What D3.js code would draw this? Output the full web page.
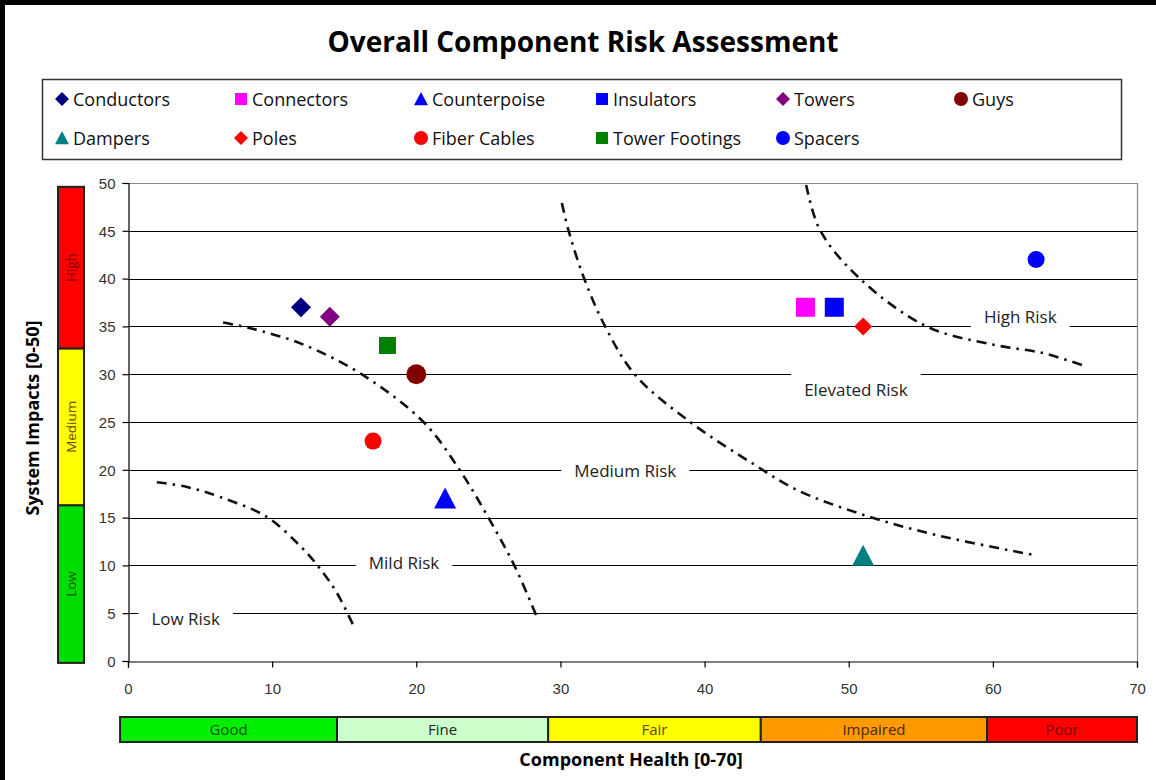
<!DOCTYPE html>
<html>
<head>
<meta charset="utf-8">
<script src="https://cdn.jsdelivr.net/npm/d3@7"></script>
<style>
  html, body { margin: 0; padding: 0; background: #fff; }
  svg { display: block; }
</style>
</head>
<body>
<svg id="chart" width="1156" height="780"></svg>
<script>
// ---- data ----
const seriesNames = ["Conductors", "Connectors", "Counterpoise", "Insulators", "Towers", "Guys",
                     "Dampers", "Poles", "Fiber Cables", "Tower Footings", "Spacers"];
const componentHealth = [12, 47, 22, 49, 14, 20, 51, 51, 17, 18, 63];
const systemImpacts   = [37, 37, 17, 37, 36, 30, 11, 35, 23, 33, 42];

const xTicks = [0, 10, 20, 30, 40, 50, 60, 70];
const yTicks = [0, 5, 10, 15, 20, 25, 30, 35, 40, 45, 50];

// risk boundary curves (health, impact)
const lowRiskBoundary = [[2.0, 18.7], [4.1, 18.2], [6.4, 17.15], [9.6, 15.1], [11.9, 12.1], [13.2, 9.9], [14.5, 7.1], [15.7, 3.5]];
const mildRiskBoundary = [[6.6, 35.4], [8.5, 34.8], [12, 33.2], [16.2, 30], [20.5, 25], [23, 20], [25, 15], [26.8, 10], [28.4, 4.5]];
const mediumRiskBoundary = [[30.1, 47.9], [30.55, 45.1], [31.6, 40.2], [33.1, 35.0], [35.2, 29.9], [39.0, 25.0], [43.5, 20.5], [46.4, 17.9], [51.0, 15.3], [56, 13.2], [62.8, 11.1]];
const highRiskBoundary = [[47.05, 49.8], [48.0, 45.1], [50.7, 40.1], [55.4, 35.0], [60.0, 33.1], [63.5, 32.2], [66.3, 30.9]];

const riskLabels = ["Low Risk", "Mild Risk", "Medium Risk", "Elevated Risk", "High Risk"];
const riskLabelHealth = [4.0, 19.15, 34.5, 50.5, 61.9];
const riskLabelImpact = [4.4, 10.25, 19.9, 28.3, 36.0];

// health bands along the x axis
const healthBandNames = ["Good", "Fine", "Fair", "Impaired", "Poor"];
const healthBandStart = [-0.55, 14.5, 29.15, 43.9, 59.6];
const healthBandEnd   = [14.5, 29.15, 43.9, 59.6, 70];

// impact bands along the y axis
const impactBandNames = ["Low", "Medium", "High"];
const impactBandStart = [-0.2, 16.3, 32.7];
const impactBandEnd   = [16.3, 32.7, 49.6];

// ---- styles ----
const markerStyle = {
  "Conductors":     { shape: "diamond",  color: "#000080", r: 10 },
  "Connectors":     { shape: "square",   color: "#ff00ff", r: 9.5 },
  "Counterpoise":   { shape: "triangle", color: "#0000ff", r: 11 },
  "Insulators":     { shape: "square",   color: "#0000ff", r: 9.5 },
  "Towers":         { shape: "diamond",  color: "#800080", r: 10 },
  "Guys":           { shape: "circle",   color: "#800000", r: 10 },
  "Dampers":        { shape: "triangle", color: "#008080", r: 11 },
  "Poles":          { shape: "diamond",  color: "#ff0000", r: 9 },
  "Fiber Cables":   { shape: "circle",   color: "#ff0000", r: 8.5 },
  "Tower Footings": { shape: "square",   color: "#008000", r: 8.5 },
  "Spacers":        { shape: "circle",   color: "#0000ff", r: 8.5 }
};
const healthBandFill = ["#00ee00", "#ccffcc", "#ffff00", "#ff9900", "#ff0000"];
const healthBandText = ["#005500", "#222222", "#5c4a00", "#4d2600", "#800000"];
const impactBandFill = ["#00dd00", "#ffff00", "#ff0000"];
const impactBandText = ["#005500", "#5c4a00", "#800000"];

const handFont = "'Open Sans', 'DejaVu Sans', sans-serif";
const tickFont = "'Liberation Sans', Arial, sans-serif";

function shapePath(shape, r) {
  if (shape === "diamond") return `M0,${-r}L${r},0L0,${r}L${-r},0Z`;
  if (shape === "square") return `M${-r},${-r}H${r}V${r}H${-r}Z`;
  if (shape === "triangle") return `M0,${-r}L${r},${r * 0.9}L${-r},${r * 0.9}Z`;
  return d3.symbol(d3.symbolCircle, Math.PI * r * r)();
}

// ---- layout ----
const svg = d3.select("#chart");
const plot = { left: 128, right: 1137, top: 183, bottom: 661 };

const x = d3.scaleLinear().domain([0, 70]).range([plot.left, plot.right]);
const y = d3.scaleLinear().domain([0, 50]).range([plot.bottom, plot.top]);

svg.append("rect").attr("width", 1156).attr("height", 780).attr("fill", "#fff");

// outer frame (left and top edges)
svg.append("rect").attr("x", 0).attr("y", 0).attr("width", 5).attr("height", 780).attr("fill", "#000");
svg.append("rect").attr("x", 0).attr("y", 0).attr("width", 1156).attr("height", 5).attr("fill", "#000");

// title
svg.append("text")
  .attr("x", 583).attr("y", 52)
  .attr("text-anchor", "middle")
  .attr("font-family", handFont).attr("font-weight", "bold").attr("font-size", 28)
  .attr("fill", "#000")
  .text("Overall Component Risk Assessment");

// legend
const legend = svg.append("g");
legend.append("rect")
  .attr("x", 42.5).attr("y", 79.5).attr("width", 1079).attr("height", 80)
  .attr("fill", "#fff").attr("stroke", "#333").attr("stroke-width", 1.5);
const legendCols = [62, 241, 421, 602, 783, 961];
const legendRows = [99, 138];
seriesNames.forEach((name, i) => {
  const row = i < 6 ? 0 : 1;
  const col = i < 6 ? i : i - 6;
  const st = markerStyle[name];
  const g = legend.append("g").attr("transform", `translate(${legendCols[col]},${legendRows[row]})`);
  g.append("path").attr("d", shapePath(st.shape, st.shape === "square" ? 6 : 7)).attr("fill", st.color);
  g.append("text")
    .attr("x", 11).attr("y", 6.5)
    .attr("font-family", handFont).attr("font-size", 18).attr("fill", "#111")
    .text(name);
});

// grid lines
svg.append("g").selectAll("line")
  .data(yTicks.filter(t => t > 0 && t < 50))
  .join("line")
  .attr("x1", plot.left).attr("x2", plot.right)
  .attr("y1", d => Math.round(y(d)) + 0.5).attr("y2", d => Math.round(y(d)) + 0.5)
  .attr("stroke", "#000").attr("stroke-width", 1.2);

// plot border (top and right)
svg.append("path")
  .attr("d", `M${plot.left},${plot.top + 0.5}H${plot.right + 0.5}V${plot.bottom}`)
  .attr("fill", "none").attr("stroke", "#888").attr("stroke-width", 1.2);

// axes
const yAxis = svg.append("g")
  .attr("transform", `translate(${plot.left + 0.5},0)`)
  .call(d3.axisLeft(y).tickValues(yTicks).tickSize(6).tickPadding(7).tickFormat(d3.format("d")));
const xAxis = svg.append("g")
  .attr("transform", `translate(0,${plot.bottom + 0.5})`)
  .call(d3.axisBottom(x).tickValues(xTicks).tickSize(6).tickPadding(16).tickFormat(d3.format("d")));
[xAxis, yAxis].forEach(a => {
  a.select(".domain").attr("stroke", "#000").attr("stroke-width", 1.2);
  a.selectAll(".tick line").attr("stroke", "#000").attr("stroke-width", 1.2);
  a.selectAll(".tick text").attr("font-family", tickFont).attr("font-size", 15).attr("fill", "#333");
});
yAxis.selectAll(".tick text").attr("dy", "0.35em");

// region labels; the white backing also breaks the nearest grid line
const labelGroup = svg.append("g");
riskLabels.forEach((lbl, i) => {
  const cx = x(riskLabelHealth[i]);
  const cy = y(riskLabelImpact[i]);
  const gridY = y(Math.round(riskLabelImpact[i] / 5) * 5);
  const t = labelGroup.append("text")
    .attr("x", cx).attr("y", cy + 6)
    .attr("text-anchor", "middle")
    .attr("font-family", handFont).attr("font-size", 17).attr("fill", "#222")
    .text(lbl);
  const bb = t.node().getBBox();
  const top = Math.min(bb.y - 2, gridY - 4);
  const bottom = Math.max(bb.y + bb.height + 2, gridY + 4);
  labelGroup.insert("rect", "text")
    .attr("x", bb.x - 13).attr("y", top)
    .attr("width", bb.width + 26).attr("height", bottom - top)
    .attr("fill", "#fff");
});

// risk boundary curves
const line = d3.line().x(d => x(d[0])).y(d => y(d[1])).curve(d3.curveCatmullRom.alpha(0.5));
svg.append("g").selectAll("path")
  .data([lowRiskBoundary, mildRiskBoundary, mediumRiskBoundary, highRiskBoundary])
  .join("path")
  .attr("d", line)
  .attr("fill", "none").attr("stroke", "#111").attr("stroke-width", 2.6)
  .attr("stroke-dasharray", "10,6,2.5,6");

// data markers
svg.append("g").selectAll("path")
  .data(seriesNames.map((n, i) => ({ name: n, hx: componentHealth[i], iy: systemImpacts[i] })))
  .join("path")
  .attr("transform", d => `translate(${x(d.hx)},${y(d.iy)})`)
  .attr("d", d => shapePath(markerStyle[d.name].shape, markerStyle[d.name].r))
  .attr("fill", d => markerStyle[d.name].color);

// impact bands (left)
const ib = svg.append("g");
impactBandNames.forEach((n, i) => {
  const y0 = y(impactBandEnd[i]), y1 = y(impactBandStart[i]);
  ib.append("rect")
    .attr("x", 58).attr("y", y0).attr("width", 26).attr("height", y1 - y0)
    .attr("fill", impactBandFill[i]).attr("stroke", "#222").attr("stroke-width", 2);
  ib.append("text")
    .attr("transform", `translate(76,${(y0 + y1) / 2}) rotate(-90)`)
    .attr("text-anchor", "middle")
    .attr("font-family", handFont).attr("font-size", 13.5).attr("fill", impactBandText[i])
    .text(n);
});

// health bands (bottom)
const hb = svg.append("g");
healthBandNames.forEach((n, i) => {
  const x0 = x(healthBandStart[i]), x1 = x(healthBandEnd[i]);
  hb.append("rect")
    .attr("x", x0).attr("y", 717).attr("width", x1 - x0).attr("height", 25)
    .attr("fill", healthBandFill[i]).attr("stroke", "#222").attr("stroke-width", 2);
  hb.append("text")
    .attr("x", (x0 + x1) / 2).attr("y", 735)
    .attr("text-anchor", "middle")
    .attr("font-family", handFont).attr("font-size", 15).attr("fill", healthBandText[i])
    .text(n);
});

// axis titles
svg.append("text")
  .attr("transform", "translate(39,418) rotate(-90)")
  .attr("text-anchor", "middle")
  .attr("font-family", handFont).attr("font-weight", "bold").attr("font-size", 18).attr("fill", "#000")
  .text("System Impacts [0-50]");
svg.append("text")
  .attr("x", 631).attr("y", 766)
  .attr("text-anchor", "middle")
  .attr("font-family", handFont).attr("font-weight", "bold").attr("font-size", 18).attr("fill", "#000")
  .text("Component Health [0-70]");
</script>
</body>
</html>
